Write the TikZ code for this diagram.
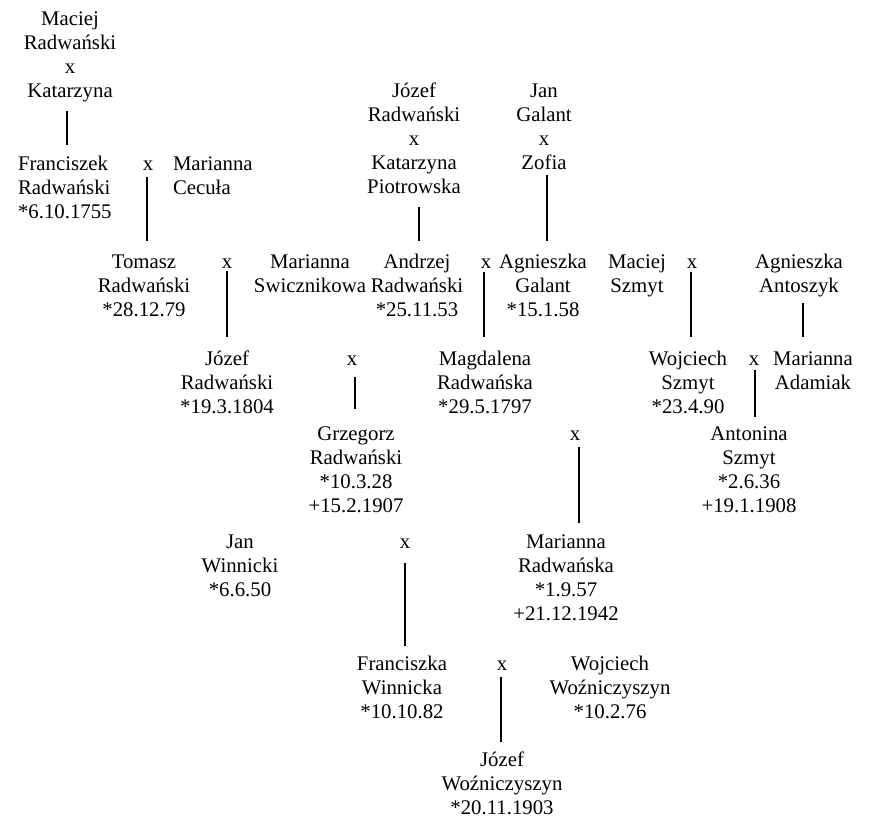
\documentclass[tikz,border=0pt]{standalone}
\usepackage{fontspec}
\setmainfont{Liberation Serif}
\newcommand\cblock[1]{\begin{tabular}[t]{@{}c@{}}#1\end{tabular}}
\newcommand\lblock[1]{\begin{tabular}[t]{@{}l@{}}#1\end{tabular}}
\tikzset{
  person/.style={inner sep=0pt, outer sep=0pt, anchor=base, font=\fontsize{20.8}{24}\selectfont},
  lperson/.style={person, anchor=base west},
  link/.style={line width=2pt}
}
\begin{document}
\begin{tikzpicture}[x=1pt,y=-1pt]
\useasboundingbox (0,0) rectangle (875,833);
% generation blocks
\node[person] (b1) at (70,25) {\cblock{Maciej\\Radwański\\x\\Katarzyna}};
\node[person] (b4) at (414,97) {\cblock{Józef\\Radwański\\x\\Katarzyna\\Piotrowska}};
\node[person] (b5) at (544,97) {\cblock{Jan\\Galant\\x\\Zofia}};
\node[lperson] (b2) at (18,170) {\lblock{Franciszek\\Radwański\\{*}6.10.1755}};
\node[person] (x1) at (148,170) {x};
\node[lperson] (b3) at (173,170) {\lblock{Marianna\\Cecuła}};
\node[person] (b6) at (144,268) {\cblock{Tomasz\\Radwański\\{*}28.12.79}};
\node[person] (x2) at (227,268) {x};
\node[person] (b7) at (310,268) {\cblock{Marianna\\Swicznikowa}};
\node[person] (b8) at (417,268) {\cblock{Andrzej\\Radwański\\{*}25.11.53}};
\node[person] (x3) at (486,268) {x};
\node[person] (b9) at (543,268) {\cblock{Agnieszka\\Galant\\{*}15.1.58}};
\node[person] (b10) at (637,268) {\cblock{Maciej\\Szmyt}};
\node[person] (x4) at (692,268) {x};
\node[person] (b11) at (799,268) {\cblock{Agnieszka\\Antoszyk}};
\node[person] (b12) at (227,365) {\cblock{Józef\\Radwański\\{*}19.3.1804}};
\node[person] (x5) at (352,365) {x};
\node[person] (b13) at (485,365) {\cblock{Magdalena\\Radwańska\\{*}29.5.1797}};
\node[person] (b14) at (688,365) {\cblock{Wojciech\\Szmyt\\{*}23.4.90}};
\node[person] (x6) at (754,365) {x};
\node[person] (b15) at (813,365) {\cblock{Marianna\\Adamiak}};
\node[person] (b16) at (356,440) {\cblock{Grzegorz\\Radwański\\{*}10.3.28\\+15.2.1907}};
\node[person] (x7) at (575,440) {x};
\node[person] (b17) at (749,440) {\cblock{Antonina\\Szmyt\\{*}2.6.36\\+19.1.1908}};
\node[person] (b18) at (240,548) {\cblock{Jan\\Winnicki\\{*}6.6.50}};
\node[person] (x8) at (405,548) {x};
\node[person] (b19) at (566,548) {\cblock{Marianna\\Radwańska\\{*}1.9.57\\+21.12.1942}};
\node[person] (b20) at (402,670) {\cblock{Franciszka\\Winnicka\\{*}10.10.82}};
\node[person] (x9) at (502,670) {x};
\node[person] (b21) at (610,670) {\cblock{Wojciech\\Woźniczyszyn\\{*}10.2.76}};
\node[person] (b22) at (502,766) {\cblock{Józef\\Woźniczyszyn\\{*}20.11.1903}};
% line end points
\coordinate (l1a) at (67,111);  \coordinate (l1b) at (67,145);
\coordinate (l2a) at (147,177); \coordinate (l2b) at (147,241);
\coordinate (l3a) at (419,207); \coordinate (l3b) at (419,241);
\coordinate (l4a) at (547,175); \coordinate (l4b) at (547,241);
\coordinate (l5a) at (227,271); \coordinate (l5b) at (227,337);
\coordinate (l6a) at (484,272); \coordinate (l6b) at (484,337);
\coordinate (l7a) at (691,272); \coordinate (l7b) at (691,337);
\coordinate (l8a) at (803,303); \coordinate (l8b) at (803,337);
\coordinate (l9a) at (355,377); \coordinate (l9b) at (355,409);
\coordinate (l10a) at (755,370); \coordinate (l10b) at (755,417);
\coordinate (l11a) at (579,447); \coordinate (l11b) at (579,523);
\coordinate (l12a) at (405,563); \coordinate (l12b) at (405,646);
\coordinate (l13a) at (501,677); \coordinate (l13b) at (501,742);
\foreach \i in {1,...,13} {\draw[link] (l\i a) -- (l\i b);}
\end{tikzpicture}
\end{document}
